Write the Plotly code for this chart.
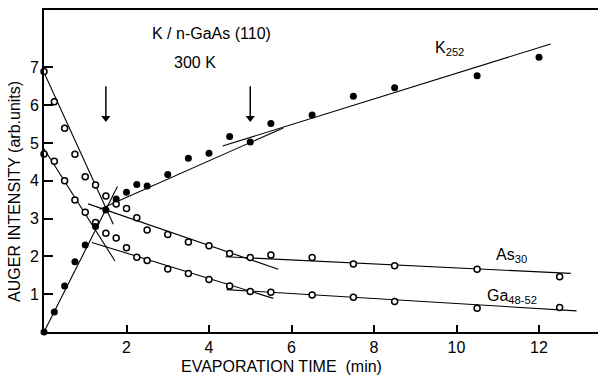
import plotly.graph_objects as go

# ---- data ----
k_t = [0, 0.25, 0.5, 0.75, 1.0, 1.25, 1.5, 1.75, 2.0, 2.25, 2.5, 3.0, 3.5, 4.0, 4.5, 5.0, 5.5, 6.5, 7.5, 8.5, 10.5, 12.0]
k_v = [0, 0.53, 1.22, 1.86, 2.30, 2.79, 3.23, 3.52, 3.70, 3.90, 3.86, 4.17, 4.60, 4.73, 5.17, 5.03, 5.52, 5.74, 6.24, 6.46, 6.78, 7.27]

as_t = [0, 0.25, 0.5, 0.75, 1.0, 1.25, 1.5, 1.75, 2.0, 2.25, 2.5, 3.0, 3.5, 4.0, 4.5, 5.0, 5.5, 6.5, 7.5, 8.5, 10.5, 12.5]
as_v = [6.89, 6.09, 5.39, 4.70, 4.11, 3.89, 3.60, 3.39, 3.27, 3.02, 2.70, 2.58, 2.38, 2.28, 2.08, 1.97, 2.04, 1.97, 1.80, 1.75, 1.66, 1.46]

ga_t = [0, 0.25, 0.5, 0.75, 1.0, 1.25, 1.5, 1.75, 2.0, 2.25, 2.5, 3.0, 3.5, 4.0, 4.5, 5.0, 5.5, 6.5, 7.5, 8.5, 10.5, 12.5]
ga_v = [4.71, 4.52, 4.00, 3.49, 3.17, 2.90, 2.61, 2.49, 2.23, 1.98, 1.89, 1.67, 1.55, 1.39, 1.22, 1.07, 1.05, 0.98, 0.92, 0.81, 0.63, 0.65]

# fitted straight-line segments: (t_start, t_end), (v_start, v_end)
fit_k1_t, fit_k1_v = [0, 1.78], [0, 3.85]
fit_k2_t, fit_k2_v = [1.35, 5.8], [3.25, 5.40]
fit_k3_t, fit_k3_v = [4.33, 12.28], [4.92, 7.62]
fit_as1_t, fit_as1_v = [0, 1.68], [6.87, 2.85]
fit_as2_t, fit_as2_v = [1.07, 5.68], [3.39, 1.66]
fit_as3_t, fit_as3_v = [4.4, 12.77], [1.99, 1.55]
fit_ga1_t, fit_ga1_v = [0, 1.72], [4.85, 1.88]
fit_ga2_t, fit_ga2_v = [1.16, 5.56], [2.37, 0.89]
fit_ga3_t, fit_ga3_v = [4.43, 12.91], [1.12, 0.56]

arrow_t = [1.5, 5.0]
arrow_top, arrow_head = 6.5, 5.66

x_ticks = [2, 4, 6, 8, 10, 12]
y_ticks = [1, 2, 3, 4, 5, 6, 7]

FONT = "Liberation Sans"
FS = 16
fig = go.Figure()

fits = [(fit_k1_t, fit_k1_v), (fit_k2_t, fit_k2_v), (fit_k3_t, fit_k3_v),
        (fit_as1_t, fit_as1_v), (fit_as2_t, fit_as2_v), (fit_as3_t, fit_as3_v),
        (fit_ga1_t, fit_ga1_v), (fit_ga2_t, fit_ga2_v), (fit_ga3_t, fit_ga3_v)]
for ft, fv in fits:
    fig.add_trace(go.Scatter(x=ft, y=fv, mode="lines", line=dict(color="black", width=1.1),
                             showlegend=False, hoverinfo="skip", cliponaxis=False))

for tt, vv in [(as_t, as_v), (ga_t, ga_v)]:
    fig.add_trace(go.Scatter(x=tt, y=vv, mode="markers", showlegend=False, cliponaxis=False,
                             marker=dict(symbol="circle", size=6, color="white",
                                         line=dict(color="black", width=1.5))))
fig.add_trace(go.Scatter(x=k_t, y=k_v, mode="markers", showlegend=False, cliponaxis=False,
                         marker=dict(symbol="circle", size=7, color="black",
                                     line=dict(color="black", width=0))))

# vertical arrows: shaft + filled triangular head
for at in arrow_t:
    fig.add_trace(go.Scatter(x=[at, at], y=[arrow_top, arrow_head], mode="lines",
                             showlegend=False, hoverinfo="skip",
                             line=dict(color="black", width=1.5)))
    fig.add_trace(go.Scatter(x=[at], y=[arrow_head], mode="markers",
                             showlegend=False, hoverinfo="skip",
                             marker=dict(symbol="triangle-down", size=8,
                                         color="black", line=dict(width=0))))

labels = [
    ("K / n-GaAs (110)", 4.05, 7.91),
    ("300 K", 3.66, 7.14),
    ("K<sub>252</sub>", 9.82, 7.50),
    ("As<sub>30</sub>", 11.34, 2.03),
    ("Ga<sub>48-52</sub>", 11.34, 0.94),
]
for txt, xx, yy in labels:
    fig.add_annotation(x=xx, y=yy, xref="x", yref="y", text=txt, showarrow=False,
                       xanchor="center", yanchor="middle",
                       font=dict(family=FONT, size=FS, color="black"))

fig.add_annotation(x=0.4287, y=-0.1056, xref="paper", yref="paper", text="EVAPORATION TIME  (min)",
                   showarrow=False, xanchor="center", yanchor="middle",
                   font=dict(family=FONT, size=FS, color="black"))
fig.add_annotation(x=-0.0523, y=0.435, xref="paper", yref="paper", text="AUGER INTENSITY (arb.units)",
                   textangle=-90, showarrow=False, xanchor="center", yanchor="middle",
                   font=dict(family=FONT, size=FS, color="black"))

fig.update_layout(
    width=598, height=375,
    margin=dict(l=44, r=0, t=10, b=43),
    paper_bgcolor="white", plot_bgcolor="white",
    font=dict(family=FONT, size=FS, color="black"),
    xaxis=dict(range=[0, 13.43], tickvals=x_ticks, ticks="inside", ticklen=7, tickwidth=1.5,
               tickcolor="black", showline=True, linewidth=2, linecolor="black", mirror=True,
               showgrid=False, zeroline=False),
    yaxis=dict(range=[0, 8.52], tickvals=y_ticks, ticks="inside", ticklen=9, tickwidth=1.5,
               tickcolor="black", showline=True, linewidth=2, linecolor="black", mirror=False,
               showgrid=False, zeroline=False),
)

fig.write_html("out.html")
